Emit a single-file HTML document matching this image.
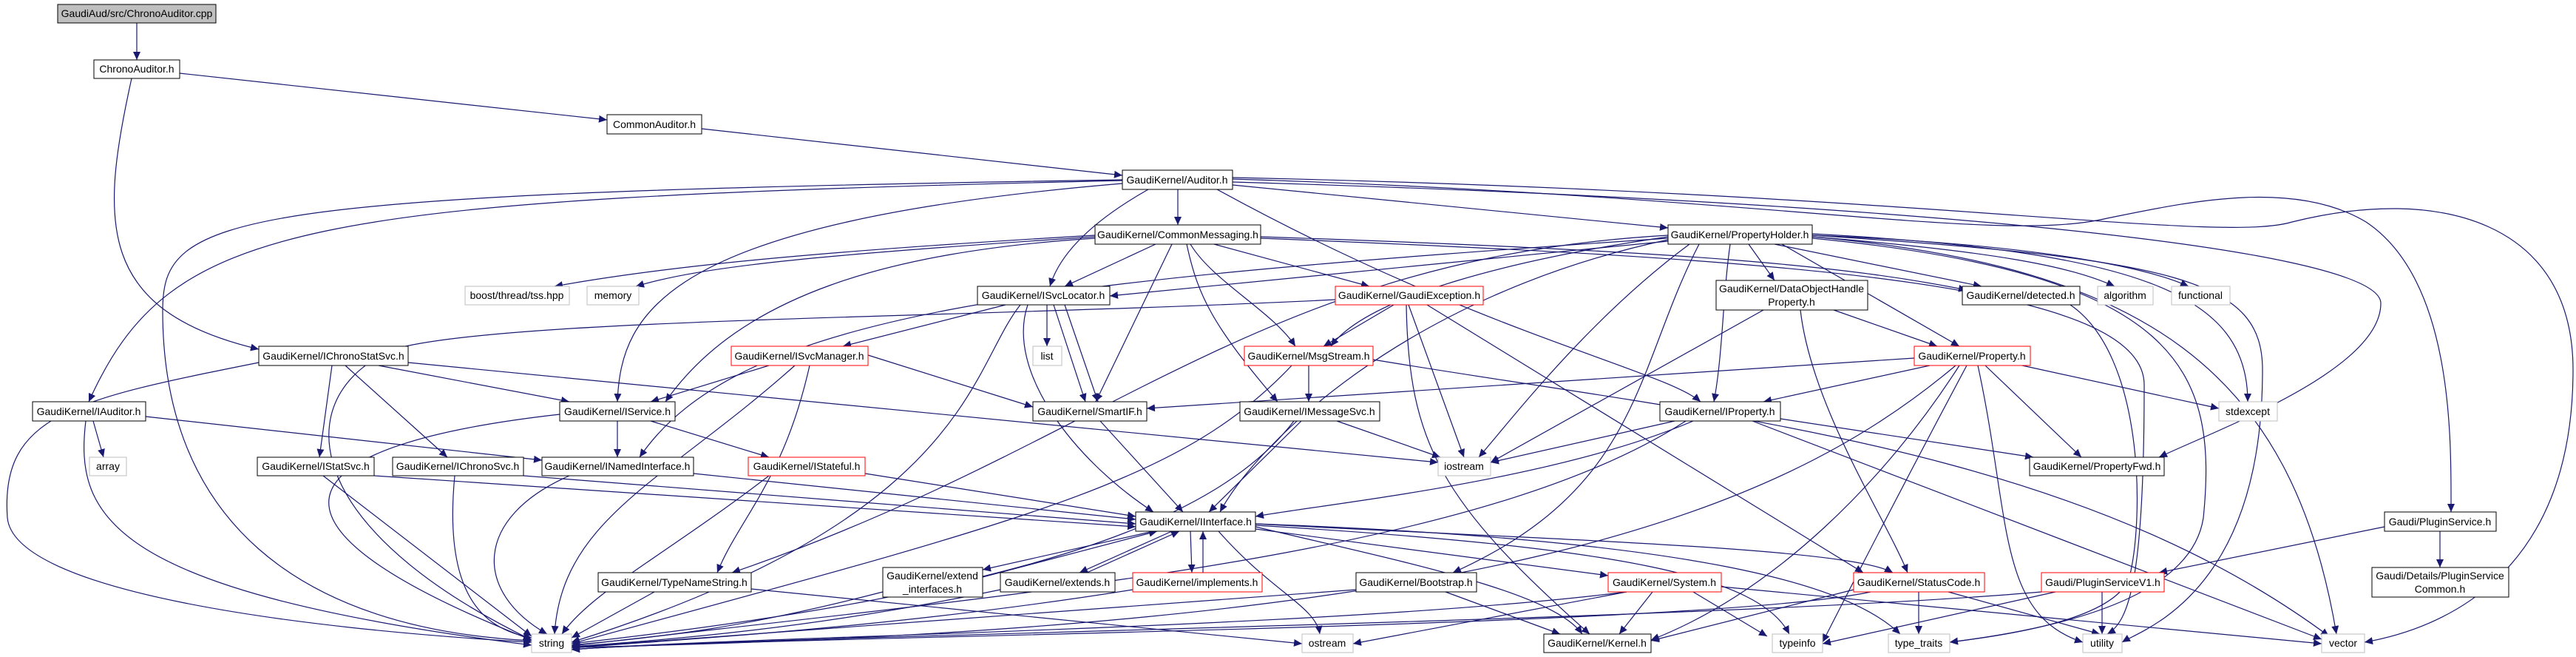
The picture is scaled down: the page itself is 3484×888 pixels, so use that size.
<!DOCTYPE html>
<html><head><meta charset="utf-8">
<style>
html,body{margin:0;padding:0;background:#fff;}
svg{display:block;}
text{font-family:"Liberation Sans",Arial,sans-serif;font-size:14px;fill:#000;}
.e{fill:none;stroke:#191970;stroke-width:1.2;marker-end:url(#a);}
.n{fill:#fff;stroke:#000;stroke-width:1;}
.g{fill:#fff;stroke:#bfbfbf;stroke-width:1;}
.r{fill:#fff;stroke:#ff0000;stroke-width:1;}
</style></head><body>
<svg width="3484" height="888" viewBox="0 0 3484 888" xmlns="http://www.w3.org/2000/svg">
<defs><marker id="a" markerUnits="userSpaceOnUse" markerWidth="12" markerHeight="10" refX="11" refY="5" orient="auto"><path d="M0,0 L11,5 L0,10 z" fill="#191970"/></marker></defs>
<g>
<path class="e" d="M185,31 L185,81"/>
<path class="e" d="M243,99 L821,162"/>
<path class="e" d="M178,106 C135,300 130,420 350,472"/>
<path class="e" d="M949,174 L1518,237"/>
<!-- Auditor -->
<path class="e" d="M1593,256 L1593,304"/>
<path class="e" d="M1667,250 L2256,308"/>
<path class="e" d="M1553,256 Q1440,320 1420,387"/>
<path class="e" d="M1518,244 C400,270 230,300 120,543"/>
<path class="e" d="M1518,248 C900,300 840,420 835,543"/>
<path class="e" d="M1518,243 C300,262 220,290 220,420 C220,700 400,850 719,866"/>
<path class="e" d="M1646,256 C2000,450 2250,500 2300,543"/>
<path class="e" d="M1667,246 C2500,270 3220,330 3220,410 C3220,500 3000,580 2920,618"/>
<path class="e" d="M1667,242 C2400,265 2700,330 2850,295 C2950,275 3100,240 3200,300 C3320,380 3315,600 3315,692"/>
<path class="e" d="M1667,240 C2600,260 3000,330 3100,300 C3300,250 3480,300 3480,500 C3480,780 3300,850 3198,868"/>
<!-- CommonMessaging -->
<path class="e" d="M1481,318 C1100,340 900,360 750,387"/>
<path class="e" d="M1481,320 C1100,345 950,360 860,387"/>
<path class="e" d="M1563,330 L1440,387"/>
<path class="e" d="M1642,330 L1852,387"/>
<path class="e" d="M1610,330 C1640,380 1720,420 1752,468"/>
<path class="e" d="M1605,330 C1620,400 1640,440 1728,543"/>
<path class="e" d="M1585,330 L1482,543"/>
<path class="e" d="M1481,322 C1200,340 1000,400 900,543"/>
<path class="e" d="M1705,320 C2300,340 2500,360 2660,392"/>
<path class="e" d="M1705,322 C2400,350 2900,380 2900,520 C2900,780 2880,840 2850,857"/>
<!-- PropertyHolder -->
<path class="e" d="M2400,330 L2680,387"/>
<path class="e" d="M2451,320 C2700,340 2800,360 2860,387"/>
<path class="e" d="M2451,318 C2750,330 2900,360 2960,387"/>
<path class="e" d="M2451,316 C2900,340 3040,400 3040,543"/>
<path class="e" d="M2451,318 C2950,350 3060,380 3060,500 C3060,800 2900,850 2870,868"/>
<path class="e" d="M2451,320 C2900,360 3100,500 3160,857"/>
<path class="e" d="M2451,322 C2950,370 3000,500 2980,700 C2960,830 2700,860 2637,868"/>
<path class="e" d="M2365,330 L2400,379"/>
<path class="e" d="M2410,330 L2650,468"/>
<path class="e" d="M2340,330 C2330,400 2330,480 2318,543"/>
<path class="e" d="M2285,330 C2150,430 2050,560 2000,618"/>
<path class="e" d="M2256,320 C2050,350 1850,400 1800,468"/>
<path class="e" d="M2256,326 L1501,400"/>
<path class="e" d="M2298,330 C2210,500 2220,660 1965,774"/>
<path class="e" d="M2256,318 C1700,350 1500,600 990,774"/>
<path class="e" d="M2256,322 C1400,380 1000,420 865,618"/>
<path class="e" d="M2256,324 C1900,400 1700,600 1650,692"/>
<!-- ISvcLocator -->
<path class="e" d="M1360,412 L1140,468"/>
<path class="e" d="M1416,412 L1416,468"/>
<path class="e" d="M1425,412 L1468,543"/>
<path class="e" d="M1440,412 L1485,543"/>
<path class="e" d="M1390,412 C1360,500 1450,620 1560,692"/>
<path class="e" d="M1380,412 C1310,500 1310,700 773,868"/>
<!-- GaudiException -->
<path class="e" d="M1885,412 L1790,468"/>
<path class="e" d="M1905,412 L1980,618"/>
<path class="e" d="M1930,412 L2520,774"/>
<path class="e" d="M1902,412 C1905,600 1950,680 2150,857"/>
<path class="e" d="M1806,405 C1300,430 700,430 540,470 C400,520 380,700 719,865"/>
<!-- DOHP -->
<path class="e" d="M2480,419 L2620,468"/>
<path class="e" d="M2435,419 C2450,550 2550,700 2580,774"/>
<path class="e" d="M2385,419 L2016,625"/>
<!-- ISvcManager -->
<path class="e" d="M1040,494 L880,543"/>
<path class="e" d="M1174,480 L1397,550"/>
<path class="e" d="M1095,494 C1060,650 1000,700 970,774"/>
<path class="e" d="M1075,494 C900,650 760,700 750,857"/>
<!-- MsgStream -->
<path class="e" d="M1770,494 L1770,543"/>
<path class="e" d="M1747,494 C1600,650 1400,700 773,870"/>
<path class="e" d="M1857,486 C2300,560 2800,600 3150,860"/>
<!-- Property -->
<path class="e" d="M2589,484 L1551,552"/>
<path class="e" d="M2610,494 L2385,543"/>
<path class="e" d="M2735,494 L3001,552"/>
<path class="e" d="M2685,494 L2815,618"/>
<path class="e" d="M2645,494 C2400,700 2000,850 773,875"/>
<path class="e" d="M2660,494 C2550,700 2500,800 2465,868"/>
<path class="e" d="M2675,494 C2720,700 2700,830 2817,868"/>
<path class="e" d="M2650,494 C2550,650 2400,800 2233,865"/>
<!-- IChronoStatSvc -->
<path class="e" d="M512,494 L770,543"/>
<path class="e" d="M449,494 L432,618"/>
<path class="e" d="M467,494 L605,618"/>
<path class="e" d="M350,490 C100,540 0,560 10,700 C20,800 400,850 719,868"/>
<path class="e" d="M552,490 L1945,625"/>
<!-- IAuditor -->
<path class="e" d="M126,569 L140,618"/>
<path class="e" d="M116,569 C100,700 150,800 719,872"/>
<path class="e" d="M197,563 L733,622"/>
<!-- IService -->
<path class="e" d="M835,569 L835,618"/>
<path class="e" d="M880,569 L1040,618"/>
<path class="e" d="M757,560 C400,600 300,700 719,865"/>
<!-- row 8 -->
<path class="e" d="M506,643 L1536,712"/>
<path class="e" d="M437,643 L719,860"/>
<path class="e" d="M708,643 L1536,708"/>
<path class="e" d="M615,643 C600,800 650,850 719,862"/>
<path class="e" d="M938,640 L1536,702"/>
<path class="e" d="M770,643 C640,700 640,800 740,857"/>
<path class="e" d="M1040,643 C900,750 800,800 760,857"/>
<path class="e" d="M1170,640 L1536,698"/>
<path class="e" d="M1488,569 L1600,692"/>
<path class="e" d="M1760,569 L1635,692"/>
<path class="e" d="M1808,569 L1948,618"/>
<path class="e" d="M1750,569 C1650,700 1400,800 773,870"/>
<path class="e" d="M2290,569 C2100,650 1800,680 1698,698"/>
<path class="e" d="M2265,569 L2016,625"/>
<path class="e" d="M2408,566 L2750,618"/>
<path class="e" d="M2280,569 C2000,750 1400,800 773,873"/>
<path class="e" d="M2370,569 L3140,864"/>
<!-- IInterface -->
<path class="e" d="M1560,718 L1329,770"/>
<path class="e" d="M1329,780 L1565,718"/>
<path class="e" d="M1585,718 L1460,774"/>
<path class="e" d="M1470,774 L1595,718"/>
<path class="e" d="M1610,718 L1612,774"/>
<path class="e" d="M1627,774 L1627,718"/>
<path class="e" d="M1648,718 C1720,800 1780,820 1785,857"/>
<path class="e" d="M1698,712 C1900,760 2100,800 2140,857"/>
<path class="e" d="M1698,715 L2175,778"/>
<path class="e" d="M1698,708 C2100,730 2500,740 2560,774"/>
<path class="e" d="M1698,710 C2200,740 2380,780 2420,857"/>
<path class="e" d="M1698,708 C2300,730 2500,790 2570,857"/>
<!-- row 10 -->
<path class="e" d="M1194,800 C1000,850 900,860 773,872"/>
<path class="e" d="M1353,797 C1100,850 900,865 773,874"/>
<path class="e" d="M1532,797 C1200,850 900,865 773,876"/>
<path class="e" d="M885,800 L773,862"/>
<path class="e" d="M1016,796 L1761,870"/>
<path class="e" d="M1955,800 L2110,857"/>
<path class="e" d="M1834,797 C1400,830 1000,860 773,875"/>
<path class="e" d="M2235,800 L2190,857"/>
<path class="e" d="M2200,800 C1800,850 1000,860 773,878"/>
<path class="e" d="M2290,800 L2390,860"/>
<path class="e" d="M2328,793 L3140,870"/>
<path class="e" d="M2200,800 L1830,870"/>
<path class="e" d="M2595,800 L2595,857"/>
<path class="e" d="M2635,800 L2840,857"/>
<path class="e" d="M2507,797 L2233,866"/>
<path class="e" d="M2530,800 C2300,850 1000,860 773,878"/>
<path class="e" d="M3225,712 L2920,774"/>
<path class="e" d="M3300,718 L3300,767"/>
<path class="e" d="M2843,800 L2843,857"/>
<path class="e" d="M2780,800 L2465,870"/>
<path class="e" d="M2761,800 C2300,840 1000,860 773,878"/>
<path class="e" d="M2800,412 C2900,480 2900,700 2880,780 C2860,840 2700,860 2637,868"/>
</g>
<g>
<rect x="78" y="6" width="214" height="25" fill="#bfbfbf" stroke="#000"/><text x="185" y="23" text-anchor="middle">GaudiAud/src/ChronoAuditor.cpp</text>
<rect class="n" x="127" y="81" width="116" height="25"/><text x="185" y="98" text-anchor="middle">ChronoAuditor.h</text>
<rect class="n" x="821" y="155" width="128" height="26"/><text x="885" y="173" text-anchor="middle">CommonAuditor.h</text>
<rect class="n" x="1518" y="230" width="149" height="26"/><text x="1592" y="248" text-anchor="middle">GaudiKernel/Auditor.h</text>
<rect class="n" x="1481" y="304" width="224" height="26"/><text x="1593" y="322" text-anchor="middle">GaudiKernel/CommonMessaging.h</text>
<rect class="n" x="2256" y="304" width="195" height="26"/><text x="2353" y="322" text-anchor="middle">GaudiKernel/PropertyHolder.h</text>
<rect class="g" x="629" y="387" width="141" height="25"/><text x="699" y="404" text-anchor="middle">boost/thread/tss.hpp</text>
<rect class="g" x="794" y="387" width="70" height="25"/><text x="829" y="404" text-anchor="middle">memory</text>
<rect class="n" x="1322" y="387" width="179" height="25"/><text x="1411" y="404" text-anchor="middle">GaudiKernel/ISvcLocator.h</text>
<rect class="r" x="1806" y="387" width="200" height="25"/><text x="1906" y="404" text-anchor="middle">GaudiKernel/GaudiException.h</text>
<rect class="n" x="2321" y="379" width="205" height="40"/><text x="2423" y="395" text-anchor="middle">GaudiKernel/DataObjectHandle</text><text x="2423" y="413" text-anchor="middle">Property.h</text>
<rect class="n" x="2654" y="387" width="159" height="25"/><text x="2733" y="404" text-anchor="middle">GaudiKernel/detected.h</text>
<rect class="g" x="2837" y="387" width="75" height="25"/><text x="2874" y="404" text-anchor="middle">algorithm</text>
<rect class="g" x="2937" y="387" width="79" height="25"/><text x="2976" y="404" text-anchor="middle">functional</text>
<rect class="n" x="350" y="468" width="202" height="26"/><text x="451" y="486" text-anchor="middle">GaudiKernel/IChronoStatSvc.h</text>
<rect class="r" x="989" y="468" width="185" height="26"/><text x="1081" y="486" text-anchor="middle">GaudiKernel/ISvcManager.h</text>
<rect class="g" x="1397" y="468" width="39" height="26"/><text x="1416" y="486" text-anchor="middle">list</text>
<rect class="r" x="1683" y="468" width="174" height="26"/><text x="1770" y="486" text-anchor="middle">GaudiKernel/MsgStream.h</text>
<rect class="r" x="2589" y="468" width="157" height="26"/><text x="2667" y="486" text-anchor="middle">GaudiKernel/Property.h</text>
<rect class="n" x="44" y="543" width="153" height="26"/><text x="120" y="561" text-anchor="middle">GaudiKernel/IAuditor.h</text>
<rect class="n" x="757" y="543" width="156" height="26"/><text x="835" y="561" text-anchor="middle">GaudiKernel/IService.h</text>
<rect class="n" x="1397" y="543" width="154" height="26"/><text x="1474" y="561" text-anchor="middle">GaudiKernel/SmartIF.h</text>
<rect class="n" x="1677" y="543" width="189" height="26"/><text x="1771" y="561" text-anchor="middle">GaudiKernel/IMessageSvc.h</text>
<rect class="n" x="2245" y="543" width="163" height="26"/><text x="2326" y="561" text-anchor="middle">GaudiKernel/IProperty.h</text>
<rect class="g" x="3001" y="543" width="79" height="26"/><text x="3040" y="561" text-anchor="middle">stdexcept</text>
<rect class="g" x="121" y="618" width="50" height="25"/><text x="146" y="635" text-anchor="middle">array</text>
<rect class="n" x="348" y="618" width="158" height="25"/><text x="427" y="635" text-anchor="middle">GaudiKernel/IStatSvc.h</text>
<rect class="n" x="531" y="618" width="177" height="25"/><text x="619" y="635" text-anchor="middle">GaudiKernel/IChronoSvc.h</text>
<rect class="n" x="733" y="618" width="205" height="25"/><text x="835" y="635" text-anchor="middle">GaudiKernel/INamedInterface.h</text>
<rect class="r" x="1012" y="618" width="158" height="25"/><text x="1091" y="635" text-anchor="middle">GaudiKernel/IStateful.h</text>
<rect class="g" x="1945" y="618" width="71" height="25"/><text x="1980" y="635" text-anchor="middle">iostream</text>
<rect class="n" x="2745" y="618" width="182" height="25"/><text x="2836" y="635" text-anchor="middle">GaudiKernel/PropertyFwd.h</text>
<rect class="n" x="1536" y="692" width="162" height="26"/><text x="1617" y="710" text-anchor="middle">GaudiKernel/IInterface.h</text>
<rect class="n" x="3225" y="692" width="151" height="26"/><text x="3300" y="710" text-anchor="middle">Gaudi/PluginService.h</text>
<rect class="n" x="1194" y="767" width="135" height="40"/><text x="1261" y="783" text-anchor="middle">GaudiKernel/extend</text><text x="1261" y="801" text-anchor="middle">_interfaces.h</text>
<rect class="n" x="809" y="774" width="207" height="26"/><text x="912" y="792" text-anchor="middle">GaudiKernel/TypeNameString.h</text>
<rect class="n" x="1353" y="774" width="155" height="26"/><text x="1430" y="792" text-anchor="middle">GaudiKernel/extends.h</text>
<rect class="r" x="1532" y="774" width="175" height="26"/><text x="1619" y="792" text-anchor="middle">GaudiKernel/implements.h</text>
<rect class="n" x="1834" y="774" width="163" height="26"/><text x="1915" y="792" text-anchor="middle">GaudiKernel/Bootstrap.h</text>
<rect class="r" x="2175" y="774" width="153" height="26"/><text x="2251" y="792" text-anchor="middle">GaudiKernel/System.h</text>
<rect class="r" x="2507" y="774" width="177" height="26"/><text x="2595" y="792" text-anchor="middle">GaudiKernel/StatusCode.h</text>
<rect class="r" x="2761" y="774" width="166" height="26"/><text x="2844" y="792" text-anchor="middle">Gaudi/PluginServiceV1.h</text>
<rect class="n" x="3208" y="767" width="185" height="40"/><text x="3300" y="783" text-anchor="middle">Gaudi/Details/PluginService</text><text x="3300" y="801" text-anchor="middle">Common.h</text>
<rect class="g" x="719" y="857" width="54" height="25"/><text x="746" y="874" text-anchor="middle">string</text>
<rect class="g" x="1761" y="857" width="69" height="25"/><text x="1795" y="874" text-anchor="middle">ostream</text>
<rect class="n" x="2088" y="857" width="145" height="25"/><text x="2160" y="874" text-anchor="middle">GaudiKernel/Kernel.h</text>
<rect class="g" x="2397" y="857" width="68" height="25"/><text x="2431" y="874" text-anchor="middle">typeinfo</text>
<rect class="g" x="2554" y="857" width="83" height="25"/><text x="2595" y="874" text-anchor="middle">type_traits</text>
<rect class="g" x="2817" y="857" width="53" height="25"/><text x="2843" y="874" text-anchor="middle">utility</text>
<rect class="g" x="3140" y="857" width="58" height="25"/><text x="3169" y="874" text-anchor="middle">vector</text>
</g>
</svg>
</body></html>
